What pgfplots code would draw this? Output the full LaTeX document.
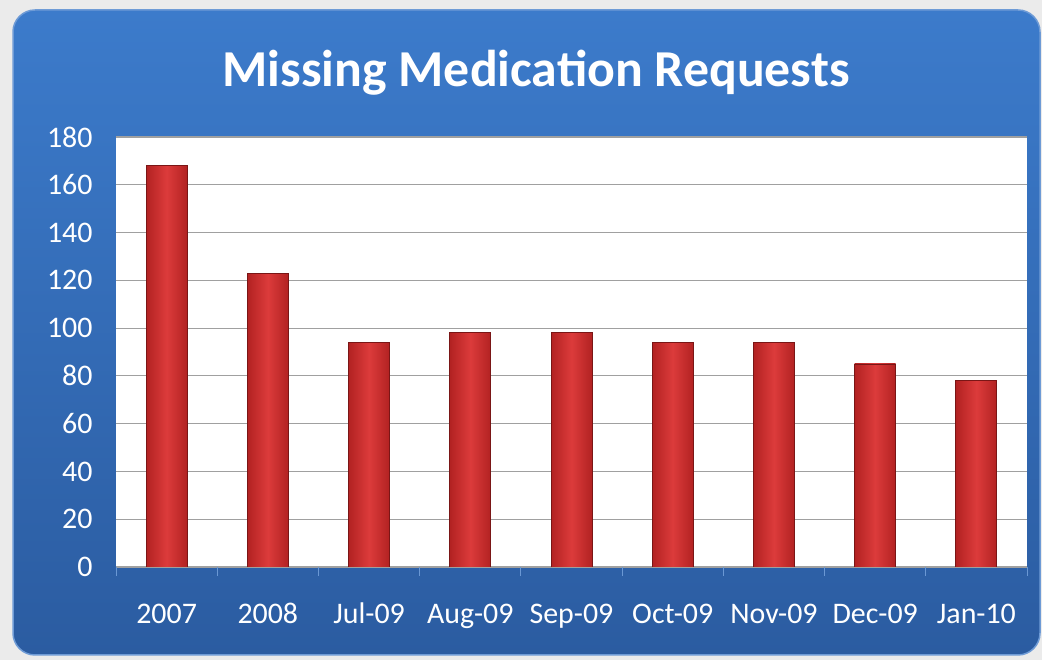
\documentclass[border=0pt]{standalone}
\usepackage{pgfplots}
\pgfplotsset{compat=1.18}
\usepackage{fontspec}
\setmainfont{Carlito}
\definecolor{bgout}{HTML}{EBEBEB}
\definecolor{bluetop}{HTML}{3C7BCB}
\definecolor{bluebot}{HTML}{2B5CA1}
\definecolor{blueedge}{HTML}{6E9BD6}
\definecolor{barmid}{HTML}{DC3B3B}
\definecolor{baredge}{HTML}{B22222}
\definecolor{barline}{HTML}{7A1616}
\definecolor{gridc}{HTML}{A0A0A0}
\definecolor{tickc}{HTML}{6A98D4}
\begin{document}
\begin{tikzpicture}[x=1bp,y=1bp]
\useasboundingbox (0,0) rectangle (1042,660);
\fill[bgout] (0,0) rectangle (1042,660);
\shade[top color=bluetop, bottom color=bluebot, rounded corners=22bp] (13,5) rectangle (1040,650);
\draw[blueedge, line width=1.5bp, rounded corners=22bp] (13,5) rectangle (1040,650);
\node[anchor=base, text=white, font=\bfseries\fontsize{52}{52}\selectfont] at (536,573) {Missing Medication Requests};
\begin{axis}[
  at={(116bp,93bp)}, anchor=south west,
  scale only axis, width=911bp, height=430bp,
  xmin=-0.5, xmax=8.5, ymin=0, ymax=180,
  ytick={0,20,...,180},
  xtick={0,...,8},
  xticklabels={2007,2008,Jul-09,Aug-09,Sep-09,Oct-09,Nov-09,Dec-09,Jan-10},
  minor xtick={-0.5,0.5,...,8.5},
  xtick pos=bottom, ytick pos=left,
  major tick length=0pt,
  minor tick length=9bp,
  tick align=outside,
  minor tick style={tickc, line width=1bp},
  ymajorgrids,
  major grid style={gridc, line width=1.1bp},
  axis line style={draw=none},
  axis background/.style={fill=white},
  /pgf/number format/assume math mode=true,
  ticklabel style={text=white, font=\fontsize{30}{30}\selectfont},
  yticklabel style={xshift=-20bp},
  xticklabel style={text height=19bp, text depth=6bp, yshift=-34bp},
  bars/.style={ybar, bar shift=0pt, bar width=41bp, left color=baredge, right color=baredge, middle color=barmid, draw=barline, line width=0.8bp},
]
\addplot[bars] coordinates {(0,168)};
\addplot[bars] coordinates {(1,123)};
\addplot[bars] coordinates {(2,94)};
\addplot[bars] coordinates {(3,98)};
\addplot[bars] coordinates {(4,98)};
\addplot[bars] coordinates {(5,94)};
\addplot[bars] coordinates {(6,94)};
\addplot[bars] coordinates {(7,85)};
\addplot[bars] coordinates {(8,78)};
\end{axis}
\end{tikzpicture}
\end{document}
